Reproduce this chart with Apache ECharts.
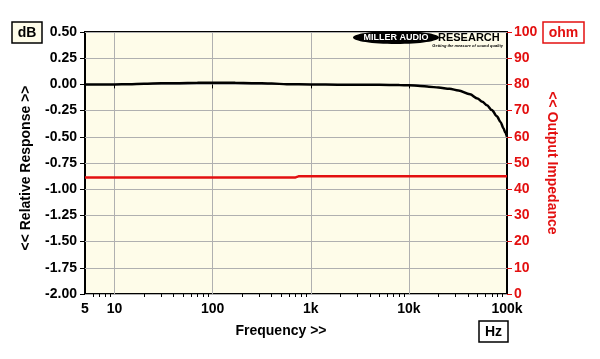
<!DOCTYPE html>
<html>
<head>
<meta charset="utf-8">
<script src="https://cdn.jsdelivr.net/npm/echarts@6/dist/echarts.min.js"></script>
<style>html,body{margin:0;padding:0;background:#fff}#c{width:600px;height:359px}</style>
</head>
<body>
<div id="c"></div>
<script>
// Frequency response (dB)
var respFreq = [5, 10, 14, 20, 30, 44, 70, 100, 170, 250, 400, 570, 1000, 2000, 3000, 5000, 8000, 10000, 13000, 16000, 20000, 26000, 32000, 42000, 50000, 56000, 62500, 70000, 79000, 86000, 92000, 96000, 100000];
var respDb = [0.000, 0.000, 0.002, 0.006, 0.010, 0.012, 0.015, 0.016, 0.015, 0.012, 0.008, 0.002, 0.000, -0.003, -0.003, -0.004, -0.006, -0.008, -0.015, -0.022, -0.030, -0.042, -0.058, -0.095, -0.135, -0.165, -0.200, -0.245, -0.305, -0.360, -0.418, -0.458, -0.500];
// Output impedance (ohm)
var impFreq = [5, 700, 750, 100000];
var impOhm = [44.5, 44.5, 44.9, 44.9];
// Tick labels
var xLabelValues = [5, 10, 100, 1000, 10000, 100000];
var xLabelText = {5: '5', 10: '10', 100: '100', 1000: '1k', 10000: '10k', 100000: '100k'};
var xMajor = [10, 100, 1000, 10000];
var xMinor = [6, 7, 8, 9, 20, 30, 40, 50, 60, 70, 80, 90, 200, 300, 400, 500, 600, 700, 800, 900, 2000, 3000, 4000, 5000, 6000, 7000, 8000, 9000, 20000, 30000, 40000, 50000, 60000, 70000, 80000, 90000];

var RED = '#e31010';
var CREAM = '#fefce9';
var FONT = '"Liberation Sans", Arial, sans-serif';

function zip(a, b) { return a.map(function (v, i) { return [v, b[i]]; }); }

var chart = echarts.init(document.getElementById('c'), null, {renderer: 'canvas'});
chart.setOption({
  animation: false,
  backgroundColor: '#fff',
  grid: {left: 85, right: 93, top: 32, bottom: 65, show: true, backgroundColor: CREAM, borderColor: '#000', borderWidth: 2},
  xAxis: [{
    type: 'log', logBase: 10, min: 5, max: 100000, position: 'bottom',
    axisLine: {show: false},
    axisTick: {show: true, customValues: xMajor, length: 4, lineStyle: {color: '#000'}},
    axisLabel: {customValues: xLabelValues, formatter: function (v) { return xLabelText[Math.round(v)] || ''; }, margin: 8, color: '#000', fontFamily: FONT, fontWeight: 'bold', fontSize: 14},
    splitLine: {show: true, lineStyle: {color: '#b0b0b0', width: 1}}
  }, {
    type: 'log', logBase: 10, min: 5, max: 100000, position: 'bottom',
    axisLine: {show: false},
    axisTick: {show: true, customValues: xMinor, length: 3, lineStyle: {color: '#000'}},
    axisLabel: {show: false},
    splitLine: {show: false}
  }],
  yAxis: [{
    type: 'value', min: -2, max: 0.5, interval: 0.25, position: 'left',
    axisLine: {show: false},
    axisTick: {show: true, length: 5, lineStyle: {color: '#000'}},
    axisLabel: {margin: 8, color: '#000', fontFamily: FONT, fontWeight: 'bold', fontSize: 14, formatter: function (v) { return v.toFixed(2); }},
    splitLine: {show: true, lineStyle: {color: '#b0b0b0', width: 1}}
  }, {
    type: 'value', min: 0, max: 100, interval: 10, position: 'right',
    axisLine: {show: false},
    axisTick: {show: true, length: 5, lineStyle: {color: RED}},
    axisLabel: {margin: 7, color: RED, fontFamily: FONT, fontWeight: 'bold', fontSize: 14},
    splitLine: {show: false}
  }],
  series: [{
    type: 'line', xAxisIndex: 0, yAxisIndex: 1, data: zip(impFreq, impOhm), showSymbol: false, smooth: false,
    lineStyle: {color: RED, width: 2.5}, z: 3
  }, {
    type: 'line', xAxisIndex: 0, yAxisIndex: 0, data: zip(respFreq, respDb), showSymbol: false, smooth: 0.3, smoothMonotone: 'x',
    lineStyle: {color: '#000', width: 2.5}, z: 4
  }],
  graphic: [
    {type: 'rect', shape: {x: 12, y: 22, width: 30, height: 21}, style: {fill: CREAM, stroke: '#000', lineWidth: 1.5}},
    {type: 'text', x: 27, y: 33, style: {text: 'dB', fill: '#000', font: 'bold 14px ' + FONT, align: 'center', verticalAlign: 'middle'}},
    {type: 'rect', shape: {x: 543, y: 22, width: 41, height: 21}, style: {fill: '#fff', stroke: RED, lineWidth: 1.5}},
    {type: 'text', x: 563.5, y: 33, style: {text: 'ohm', fill: RED, font: 'bold 14px ' + FONT, align: 'center', verticalAlign: 'middle'}},
    {type: 'rect', shape: {x: 479, y: 321, width: 29, height: 21}, style: {fill: '#fff', stroke: '#000', lineWidth: 1.5}},
    {type: 'text', x: 493.5, y: 332, style: {text: 'Hz', fill: '#000', font: 'bold 14px ' + FONT, align: 'center', verticalAlign: 'middle'}},
    {type: 'text', x: 281, y: 331, style: {text: 'Frequency >>', fill: '#000', font: 'bold 14px ' + FONT, align: 'center', verticalAlign: 'middle'}},
    {type: 'text', x: 26, y: 168, rotation: Math.PI / 2, style: {text: '<< Relative Response >>', fill: '#000', font: 'bold 14px ' + FONT, align: 'center', verticalAlign: 'middle'}},
    {type: 'text', x: 552, y: 163, rotation: -Math.PI / 2, style: {text: '<< Output Impedance', fill: RED, font: 'bold 14px ' + FONT, align: 'center', verticalAlign: 'middle'}},
    {type: 'ellipse', shape: {cx: 396, cy: 37.5, rx: 43, ry: 6.5}, style: {fill: '#000'}, z: 10},
    {type: 'text', x: 396, y: 38, z: 11, style: {text: 'MILLER AUDIO', fill: '#fff', font: 'bold 9px ' + FONT, align: 'center', verticalAlign: 'middle'}},
    {type: 'text', x: 438, y: 38, z: 11, style: {text: 'RESEARCH', fill: '#000', font: 'bold 11px ' + FONT, align: 'left', verticalAlign: 'middle'}},
    {type: 'text', x: 503, y: 45.5, z: 11, style: {text: 'Getting the measure of sound quality', fill: '#000', font: 'italic bold 4px ' + FONT, align: 'right', verticalAlign: 'middle'}}
  ]
});
</script>
</body>
</html>
